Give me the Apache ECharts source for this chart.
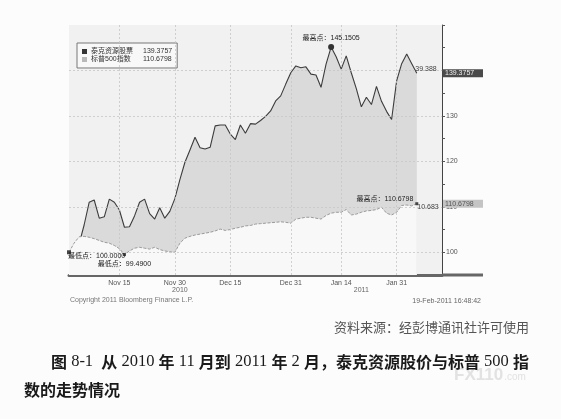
<!DOCTYPE html>
<html><head><meta charset="utf-8">
<script src="https://cdn.jsdelivr.net/npm/echarts@6/dist/echarts.min.js"></script>
<style>html,body{margin:0;padding:0;background:#fcfcfc}#c{width:561px;height:419px}</style>
</head><body><div id="c"></div>
<script>
// ---- data ----
const seriesNames = ['泰克资源股票', '标普500指数'];
const lastValues = ['139.3757', '110.6798'];
const techValues = [100.0, 100.8, 101.8, 106.0, 111.0, 111.5, 107.5, 107.8, 111.7, 111.0,
  109.3, 105.5, 105.6, 108.0, 111.0, 111.7, 108.5, 107.3, 109.8, 107.5,
  109.0, 111.8, 116.0, 119.8, 122.5, 125.3, 123.0, 122.7, 123.1, 127.8,
  128.0, 128.0, 126.0, 124.8, 128.0, 126.2, 128.3, 128.2, 129.0, 129.9,
  131.1, 133.3, 134.4, 137.0, 139.5, 141.0, 140.6, 140.8, 139.2, 139.0,
  136.3, 141.4, 145.15, 143.0, 140.3, 143.2, 139.5, 136.0, 132.0, 134.1,
  132.5, 136.5, 133.2, 131.0, 129.2, 137.7, 141.5, 143.6, 141.5, 139.38];
const spValues = [100.0, 102.0, 103.4, 103.5, 103.3, 103.0, 102.6, 102.2, 102.0, 101.5,
  100.8, 99.49, 100.3, 100.9, 101.1, 100.9, 100.7, 101.1, 100.6, 100.3,
  100.1, 100.0, 102.0, 103.1, 103.5, 103.8, 104.0, 104.2, 104.4, 104.7,
  105.1, 104.8, 105.0, 105.3, 105.5, 105.8, 105.9, 106.2, 106.3, 106.4,
  106.5, 106.6, 106.7, 106.6, 106.4, 107.3, 107.5, 107.7, 107.7, 107.5,
  107.3, 108.1, 108.6, 108.8, 108.8, 109.4, 108.2, 108.4, 108.8, 109.1,
  109.2, 109.4, 109.9, 108.6, 108.2, 108.8, 110.3, 110.4, 110.2, 110.68];
const tickDates = ['2010-11-15', '2010-11-30', '2010-12-15', '2010-12-31', '2011-01-14', '2011-01-31'];
const tickLabels = ['Nov 15', 'Nov 30', 'Dec 15', 'Dec 31', 'Jan 14', 'Jan 31'];
const yearDates = ['2010-12-01', '2011-01-20'];
const yearLabels = ['2010', '2011'];
const yTickLabels = [100, 110, 120, 130];
const yGridValues = [100, 110, 120, 130, 140];
// markers: [date, value, text]
const techHigh = ['2011-01-12', 145.15, '最高点：145.1505'];
const techLow = ['2010-11-01', 100.0, '最低点：100.0000'];
const techEnd = ['2011-02-04', 139.38, '39.388'];
const spHigh = ['2011-02-04', 110.68, '最高点：110.6798'];
const spLow = ['2010-11-16', 99.49, '最低点：99.4900'];
const spEnd = ['2011-02-04', 110.68, '10.683'];
const copyrightText = 'Copyright 2011 Bloomberg Finance L.P.';
const stampText = '19-Feb-2011 16:48:42';
const sourceText = '资料来源：经彭博通讯社许可使用';
const captionLine1 = '图 8-1  从 2010 年 11 月到 2011 年 2 月，泰克资源股价与标普 500 指';
const captionLine2 = '数的走势情况';

// weekday categories from 2010-11-01 to 2011-02-11
const dates = [];
(function () {
  const d = new Date(Date.UTC(2010, 10, 1));
  const end = Date.UTC(2011, 1, 11);
  while (d.getTime() <= end) {
    const wd = d.getUTCDay();
    if (wd !== 0 && wd !== 6) dates.push(d.toISOString().slice(0, 10));
    d.setUTCDate(d.getUTCDate() + 1);
  }
})();

const SANS = '"Liberation Sans", "Noto Sans CJK SC", sans-serif';
const NARROW = '"Liberation Sans Narrow", "Liberation Sans", sans-serif';
const chart = echarts.init(document.getElementById('c'));

function mp(m, extra) {
  return Object.assign({ coord: [m[0], m[1]], label: { show: true, formatter: m[2], fontSize: 7, color: '#333', fontFamily: SANS } }, extra);
}

const option = {
  animation: false,
  backgroundColor: '#fcfcfc',
  grid: { left: 69, right: 119, top: 25, bottom: 144, show: true, backgroundColor: '#f1f1f1', borderWidth: 0 },
  legend: {
    left: 77, top: 43, orient: 'vertical', itemWidth: 5, itemHeight: 5, itemGap: 1,
    padding: [5, 5, 5, 5], borderColor: '#777', borderWidth: 1, backgroundColor: '#f8f8f8',
    textStyle: { fontSize: 7, color: '#333', fontFamily: SANS, padding: [0, 0, 0, -1],
      rich: { n: { width: 52, fontSize: 7, fontFamily: SANS }, v: { fontSize: 7, fontFamily: SANS } } },
    formatter: function (name) { return '{n|' + name + '}{v|' + lastValues[seriesNames.indexOf(name)] + '}'; },
    data: [
      { name: seriesNames[0], icon: 'rect', itemStyle: { color: '#333' } },
      { name: seriesNames[1], icon: 'rect', itemStyle: { color: '#b8b8b8' } }
    ]
  },
  xAxis: [{
    type: 'category', data: dates, boundaryGap: false,
    axisLine: { lineStyle: { color: '#666', width: 3 } }, axisTick: { show: false },
    axisLabel: {
      interval: function (i, v) { return tickDates.indexOf(v) >= 0; },
      formatter: function (v) { const k = tickDates.indexOf(v); return k >= 0 ? tickLabels[k] : ''; },
      fontSize: 7, color: '#555', margin: 5, fontFamily: NARROW
    },
    splitLine: { show: false }
  }, {
    type: 'category', data: dates, boundaryGap: false, position: 'bottom', offset: 7,
    axisLine: { show: false }, axisTick: { show: false },
    axisLabel: {
      interval: function (i, v) { return yearDates.indexOf(v) >= 0; },
      formatter: function (v) { const k = yearDates.indexOf(v); return k >= 0 ? yearLabels[k] : ''; },
      fontSize: 7, color: '#666', margin: 5, fontFamily: NARROW
    },
    splitLine: { show: false }
  }],
  yAxis: {
    type: 'value', position: 'right', min: 95, max: 150, interval: 5,
    axisLine: { show: true, lineStyle: { color: '#444', width: 1 } },
    axisTick: { show: true, length: 3, lineStyle: { color: '#555' } },
    axisLabel: {
      formatter: function (v) { return yTickLabels.indexOf(v) >= 0 ? String(v) : ''; },
      fontSize: 7, color: '#555', margin: 4, fontFamily: NARROW
    },
    splitLine: { show: false }
  },
  series: [{
    name: seriesNames[0], type: 'line', data: techValues, symbol: 'none', z: 2,
    lineStyle: { color: '#3c3c3c', width: 1.1 }, itemStyle: { color: '#333' },
    areaStyle: { color: '#dadada', origin: 'start', opacity: 1 },
    markPoint: {
      z: 6, silent: true,
      data: [
        mp(techHigh, { symbol: 'circle', symbolSize: 6, itemStyle: { color: '#333' }, label: { show: true, formatter: techHigh[2], position: 'top', distance: 2, fontSize: 7, color: '#222', fontFamily: SANS } }),
        mp(techLow, { symbol: 'rect', symbolSize: 4, itemStyle: { color: '#444' }, label: { show: true, formatter: techLow[2], position: 'right', offset: [-8, 4], fontSize: 7, color: '#222', fontFamily: SANS } }),
        mp(techEnd, { symbol: 'rect', symbolSize: 1, itemStyle: { color: 'rgba(0,0,0,0)' }, label: { show: true, formatter: techEnd[2], position: 'right', distance: 0, offset: [-2, -4], fontSize: 7, color: '#444', fontFamily: SANS } })
      ]
    }
  }, {
    name: seriesNames[1], type: 'line', data: spValues, symbol: 'none', z: 3,
    lineStyle: { color: '#9a9a9a', width: 1, type: [3, 1.5] }, itemStyle: { color: '#b8b8b8' },
    areaStyle: { color: '#f8f8f8', origin: 'start', opacity: 1 },
    markLine: {
      z: 5, silent: true, symbol: 'none', label: { show: false },
      lineStyle: { color: '#c6c6c6', type: [2, 2], width: 0.8 },
      data: yGridValues.map(function (v) { return { yAxis: v }; })
        .concat(tickDates.map(function (d) { return { xAxis: d }; }))
    },
    markPoint: {
      z: 6, silent: true,
      data: [
        mp(spHigh, { symbol: 'rect', symbolSize: 3, itemStyle: { color: '#444' }, label: { show: true, formatter: spHigh[2], position: 'left', distance: 2, offset: [0, -5], fontSize: 7, color: '#222', fontFamily: SANS } }),
        mp(spLow, { symbol: 'rect', symbolSize: 3, itemStyle: { color: '#444' }, label: { show: true, formatter: spLow[2], position: 'bottom', distance: 4, offset: [0, 0], fontSize: 7, color: '#222', fontFamily: SANS } }),
        mp(spEnd, { symbol: 'rect', symbolSize: 1, itemStyle: { color: 'rgba(0,0,0,0)' }, label: { show: true, formatter: spEnd[2], position: 'right', distance: 0, offset: [0, 3], fontSize: 7, color: '#444', fontFamily: SANS } })
      ]
    }
  }]
};
chart.setOption(option);

// overlay graphics placed through the chart's own scales
const xr = chart.convertToPixel({ xAxisIndex: 0 }, dates[dates.length - 1]);
const xl = chart.convertToPixel({ xAxisIndex: 0 }, dates[0]);
const y95 = chart.convertToPixel({ yAxisIndex: 0 }, 95);
const yT = chart.convertToPixel({ yAxisIndex: 0 }, parseFloat(lastValues[0]));
const yS = chart.convertToPixel({ yAxisIndex: 0 }, parseFloat(lastValues[1]));

function captionRich(s) {
  const parts = s.match(/[\u3000-\u9fff\uff00-\uffef]+|[^\u3000-\u9fff\uff00-\uffef]+/g);
  return parts.map(function (p) { return /[\u3000-\u9fff\uff00-\uffef]/.test(p) ? '{c|' + p + '}' : '{l|' + p + '}'; }).join('');
}
const capRich = {
  c: { fontFamily: '"Noto Sans CJK SC"', fontWeight: 'bold', fontSize: 16, fill: '#1a1a1a' },
  l: { fontFamily: '"Liberation Serif", serif', fontWeight: 'normal', fontSize: 16.5, fill: '#1a1a1a' }
};

chart.setOption({
  graphic: [
    { type: 'rect', z: 10, shape: { x: xr, y: y95 - 1.5, width: 41, height: 3 }, style: { fill: '#666' } },
    { type: 'rect', z: 10, shape: { x: xr + 1, y: yT - 4, width: 40, height: 8 }, style: { fill: '#4a4a4a' } },
    { type: 'text', z: 11, x: xr + 3, y: yT, style: { text: lastValues[0], fill: '#eeeeee', font: '7px ' + SANS, textVerticalAlign: 'middle' } },
    { type: 'rect', z: 10, shape: { x: xr + 1, y: yS - 4, width: 40, height: 8 }, style: { fill: '#c4c4c4' } },
    { type: 'text', z: 11, x: xr + 3, y: yS, style: { text: lastValues[1], fill: '#555', font: '7px ' + SANS, textVerticalAlign: 'middle' } },
    { type: 'text', z: 11, x: xl + 1, y: 300, style: { text: copyrightText, fill: '#777', font: '7px ' + SANS, textVerticalAlign: 'middle' } },
    { type: 'text', z: 11, x: 481, y: 301, style: { text: stampText, fill: '#666', font: '7px ' + SANS, textAlign: 'right', textVerticalAlign: 'middle' } },
    { type: 'text', z: 11, x: 529, y: 327, style: { text: sourceText, fill: '#555', font: '13px "Noto Sans CJK SC"', textAlign: 'right', textVerticalAlign: 'middle' } },
    { type: 'text', z: 11, x: 51, y: 362, style: { text: captionRich(captionLine1), rich: capRich, textVerticalAlign: 'middle' } },
    { type: 'text', z: 11, x: 24, y: 390, style: { text: captionRich(captionLine2), rich: capRich, textVerticalAlign: 'middle' } },
    { type: 'text', z: 1, x: 454, y: 375, style: { text: '{a|FX110}{b|.com}', textVerticalAlign: 'middle',
      rich: { a: { fontFamily: SANS, fontWeight: 'bold', fontSize: 17, fill: '#e2e2e2' }, b: { fontFamily: SANS, fontSize: 10, fill: '#e2e2e2', padding: [5, 0, 0, 1] } } } }
  ]
});
</script></body></html>
